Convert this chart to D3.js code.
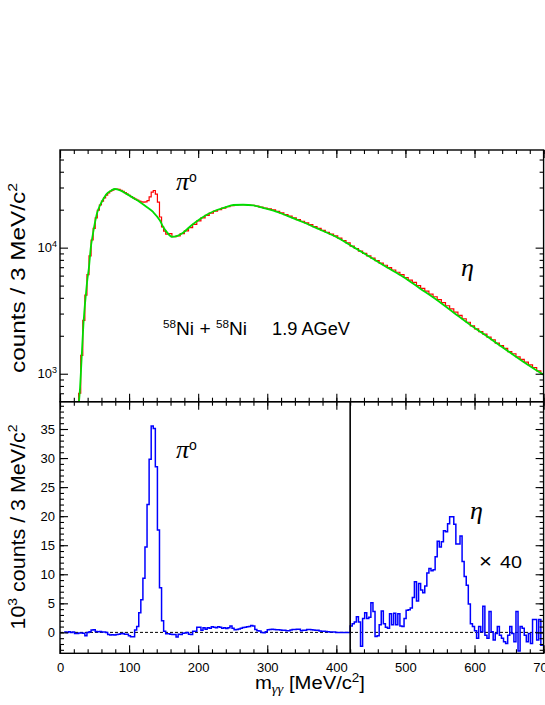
<!DOCTYPE html>
<html>
<head>
<meta charset="utf-8">
<script src="https://cdn.jsdelivr.net/npm/d3@7"></script>
<style>
  body { margin: 0; background: #fff; }
  svg { display: block; }
</style>
</head>
<body>
<svg id="chart" width="545" height="705"></svg>
<script>
// ---- data ----
const binWidth = 3; // MeV per bin

// lower panel: (data - background) in 10^3 counts, bins from 6 MeV
const diffStart = 6;
const diffLow = [
  0.05, 0.0, 0.1, 0.0, 0.05, -0.2, -0.2, -0.1, -0.1, -0.15,
  -0.6, 0.0, 0.1, 0.4, 0.45, 0.15, 0.1, 0.15, 0.05, 0.05,
  0.0, -0.35, -0.45, -0.4, -0.45, -0.35, -0.3, -0.25, -0.2, -0.3,
  -0.3, -0.6, -0.75, -0.75,
  0.4, 1.0, 3.4, 5.6, 9.3, 14.7, 22.0, 29.8, 35.5, 35.1,
  28.5, 17.6, 7.7, 2.0, 0.2,
  -0.25, -0.25, -0.3, -0.35, -0.35, -0.8, -0.3, -0.35, -0.15, -0.1,
  0.0, -0.3, -0.35, 0.2, 0.2, 0.9, 0.9, 0.35, 0.8, 0.55,
  0.8, 0.7, 0.95, 0.9, 0.8, 0.95, 0.9, 0.7, 0.8, 0.65,
  0.8, 1.1, 0.7, 0.45, 0.5, 0.6, 0.7, 0.85, 0.9, 0.95,
  1.0, 1.2, 1.1, 0.5, 0.3, 0.25, 0.0, -0.05, 0.1, 0.45,
  0.5, 0.55, 0.5, 0.45, 0.45, 0.4, 0.35, 0.35, 0.3, 0.3,
  0.4, 0.5, 0.5, 0.55, 0.55, 0.3, 0.35, 0.35, 0.5, 0.5,
  0.45, 0.4, 0.35, 0.35, 0.25, 0.2, 0.2, 0.15, 0.1, 0.05,
  0.05, 0.05, 0.0, 0.0, 0.0, 0.0, 0.0, 0.0, 0.0
];

// lower panel above 420 MeV, multiplied by 40
const scaledStart = 420;
const diffScaled = [
  1.1, 1.5, 1.8, 2.7, 1.8, -2.4, 2.4, 3.4, 2.4, 2.6,
  5.1, 3.6, -0.7, -0.6, 1.3, 3.7, 1.5, 0.9, 0.7, 3.2,
  1.3, 3.3, 1.3, 3.2, 1.1, 1.0, 2.4, 3.8, 3.9, 4.2,
  6.0, 8.7, 5.4, 8.4, 7.3, 6.8, 8.0, 10.2, 11.0, 10.6,
  10.8, 13.0, 15.7, 14.7, 15.6, 17.5, 17.3, 18.7, 19.9, 19.9,
  18.6, 15.2, 15.2, 16.6, 12.2, 9.6, 8.1, 4.9, 1.5, 1.0,
  0.3, -1.0, 1.0, 0.1, 4.5, -0.5, -1.0, 3.6, 0.1, -1.3,
  -0.2, 1.0, -0.5, -1.0, -1.6, -1.9, -0.5, 1.0, -0.2, -1.6,
  3.6, -3.2, 1.0, 0.7, -0.5, -1.6, -0.2, -1.9, 2.2, 2.2,
  -1.3, 2.2, -2.2
];

// upper panel: measured spectrum [bin low edge MeV, counts]
const dataCounts = [
  [24, 300], [27, 700], [30, 1400], [33, 2650], [36, 4200], [39, 6100], [42, 8600],
  [45, 11500], [48, 14200], [51, 17200], [54, 19800], [57, 21800], [60, 23400],
  [63, 24800], [66, 26100], [69, 27200], [72, 28000], [75, 28600], [78, 29000],
  [81, 29200], [84, 29000], [87, 28500], [90, 28000], [93, 27300], [96, 26600],
  [99, 26000], [102, 25400], [105, 24800], [108, 24300], [111, 23800], [114, 23400],
  [117, 23100], [120, 23000], [123, 23100], [126, 23600], [129, 25300], [132, 27600],
  [135, 28400], [138, 26600], [141, 23000], [144, 17500], [147, 14600], [150, 13500],
  [153, 12800], [156, 12900], [162, 12200], [168, 12400], [174, 12900], [180, 13600],
  [186, 14400], [192, 15300], [198, 16300], [204, 17200], [210, 18000], [216, 18800],
  [222, 19500], [228, 20000], [234, 20600], [240, 21100], [246, 21500], [252, 21800],
  [258, 21900], [264, 21900], [270, 21800], [276, 21700], [282, 21400], [288, 21000],
  [294, 20600], [300, 20300], [306, 19900], [312, 19400], [318, 18900], [324, 18300],
  [330, 17800], [336, 17200], [342, 16700], [348, 16200], [354, 15700], [360, 15200],
  [366, 14700], [372, 14200], [378, 13700], [384, 13200], [390, 12800], [396, 12400],
  [402, 11900], [408, 11400], [414, 10900], [420, 10300], [426, 9850], [432, 9400],
  [438, 9000], [444, 8600], [450, 8250], [456, 7900], [462, 7550], [468, 7250],
  [474, 6950], [480, 6650], [486, 6380], [492, 6100], [498, 5800], [504, 5530],
  [510, 5300], [516, 5000], [522, 4750], [528, 4520], [534, 4280], [540, 4080],
  [546, 3870], [552, 3660], [558, 3460], [564, 3270], [570, 3080], [576, 2900],
  [582, 2730], [588, 2560], [594, 2400], [600, 2270], [606, 2160], [612, 2060],
  [618, 1950], [624, 1860], [630, 1750], [636, 1670], [642, 1590], [648, 1500],
  [654, 1440], [660, 1360], [666, 1300], [672, 1235], [678, 1175], [684, 1120],
  [690, 1055], [696, 1000], [699, 1000], [700, 500]
];

// upper panel: mixed-event background [MeV, counts]
const backgroundCounts = [
  [27.5, 600], [29, 771], [30.4, 1062], [31.9, 1545], [33.3, 2158], [35.2, 3100],
  [37.6, 4330], [39.5, 5520], [42, 7030], [44.4, 9820], [47.3, 12500], [50.7, 15900],
  [54, 19100], [57.9, 21600], [62.7, 24300], [67.6, 26700], [73.8, 28300], [79.6, 29200],
  [88, 28300], [96.5, 26700], [106, 24800], [116, 22900], [125.5, 21000], [135, 19100],
  [144.7, 16400], [149.6, 14500], [155, 13200], [161.7, 12200], [168, 12300],
  [178.5, 13200], [190, 15000], [202.7, 16900], [215, 18600], [227, 19900], [240, 21000],
  [251, 21800], [265, 21900], [280, 21600], [295, 20600], [309, 19700], [330, 17800],
  [352, 15900], [375, 14000], [400.6, 12100], [425, 10100], [448.8, 8430], [473, 7000],
  [497, 5860], [521, 4750], [545.5, 3840], [570, 3050], [593.7, 2440], [618, 1980],
  [642, 1600], [670, 1250], [700, 980]
];

const massTicks = [0, 100, 200, 300, 400, 500, 600, 700];
const logTicks = [1000, 10000];
const diffTicks = [0, 5, 10, 15, 20, 25, 30, 35];

// ---- layout ----
const sans = "Liberation Sans, Arial, Helvetica, sans-serif";
const serif = "Liberation Serif, Times New Roman, serif";

const svg = d3.select("#chart").attr("font-family", sans);

const x = d3.scaleLinear().domain([0, 700]).range([60, 543.6]);
const yTop = d3.scaleLog().domain([600, 59500]).range([401.7, 150]);
const yBot = d3.scaleLinear().domain([-3.6, 39.7]).range([653.3, 401.7]);

const [x0, x1] = x.range();
const [midY, topY] = yTop.range();
const [botY] = yBot.range();

const defs = svg.append("defs");
defs.append("clipPath").attr("id", "clip-top").append("rect")
  .attr("x", x0).attr("y", topY).attr("width", x1 - x0).attr("height", midY - topY);
defs.append("clipPath").attr("id", "clip-bot").append("rect")
  .attr("x", x0).attr("y", midY).attr("width", x1 - x0).attr("height", botY - midY);

// ---- upper panel ----
const stepLine = (ys) => d3.line()
  .x(d => x(d[0]))
  .y(d => ys(d[1]))
  .curve(d3.curveStepAfter);

svg.append("path")
  .datum(dataCounts)
  .attr("clip-path", "url(#clip-top)")
  .attr("fill", "none")
  .attr("stroke", "#ff0000")
  .attr("stroke-width", 1.2)
  .attr("d", stepLine(yTop));

svg.append("path")
  .datum(backgroundCounts)
  .attr("clip-path", "url(#clip-top)")
  .attr("fill", "none")
  .attr("stroke", "#00dd00")
  .attr("stroke-width", 1.8)
  .attr("d", d3.line().x(d => x(d[0])).y(d => yTop(d[1])).curve(d3.curveMonotoneX));

// ---- lower panel ----
const diffPoints = diffLow.map((v, i) => [diffStart + i * binWidth, v])
  .concat(diffScaled.map((v, i) => [scaledStart + i * binWidth, v]));
diffPoints.push([scaledStart + diffScaled.length * binWidth, diffScaled[diffScaled.length - 1]]);

svg.append("line")
  .attr("x1", x0).attr("x2", x1)
  .attr("y1", yBot(0)).attr("y2", yBot(0))
  .attr("stroke", "#000")
  .attr("stroke-width", 1)
  .attr("stroke-dasharray", "3,2");

svg.append("path")
  .datum(diffPoints)
  .attr("clip-path", "url(#clip-bot)")
  .attr("fill", "none")
  .attr("stroke", "#0000ff")
  .attr("stroke-width", 1.5)
  .attr("d", stepLine(yBot));

svg.append("line")
  .attr("x1", x(scaledStart)).attr("x2", x(scaledStart))
  .attr("y1", midY).attr("y2", botY)
  .attr("stroke", "#000")
  .attr("stroke-width", 1.6);

// ---- frames and ticks ----
[[topY, midY], [midY, botY]].forEach(([a, b]) => {
  svg.append("rect")
    .attr("x", x0).attr("y", a)
    .attr("width", x1 - x0).attr("height", b - a)
    .attr("fill", "none")
    .attr("stroke", "#000")
    .attr("stroke-width", 1.4);
});

function axisGroup(axis, tx, ty) {
  const g = svg.append("g")
    .attr("transform", `translate(${tx},${ty})`)
    .call(axis)
    .attr("font-family", sans)
    .attr("font-size", 13);
  g.select(".domain").remove();
  g.selectAll(".tick line").attr("stroke-width", 1.1);
  return g;
}
const noLabel = () => "";
const minorMass = d3.range(0, 701, 20);

// x ticks on every horizontal edge, pointing inwards
[[d3.axisTop, topY], [d3.axisBottom, midY], [d3.axisTop, midY]].forEach(([ax, ty]) => {
  axisGroup(ax(x).tickValues(massTicks).tickSize(-8).tickFormat(noLabel), 0, ty);
  axisGroup(ax(x).tickValues(minorMass).tickSize(-4).tickFormat(noLabel), 0, ty);
});
axisGroup(d3.axisBottom(x).tickValues(massTicks).tickSize(-8).tickPadding(9), 0, botY);
axisGroup(d3.axisBottom(x).tickValues(minorMass).tickSize(-4).tickFormat(noLabel), 0, botY);

// log axis of the upper panel
const minorLog = [700, 800, 900, 2000, 3000, 4000, 5000, 6000, 7000, 8000, 9000, 20000, 30000, 40000, 50000];
const gLog = axisGroup(d3.axisLeft(yTop).tickValues(logTicks).tickSize(-8).tickPadding(3).tickFormat(() => "10"), x0, 0);
gLog.selectAll(".tick text").append("tspan")
  .attr("dy", -5)
  .attr("font-size", 9)
  .text(d => Math.round(Math.log10(d)));
axisGroup(d3.axisLeft(yTop).tickValues(minorLog).tickSize(-4).tickFormat(noLabel), x0, 0);
axisGroup(d3.axisRight(yTop).tickValues(logTicks).tickSize(-8).tickFormat(noLabel), x1, 0);
axisGroup(d3.axisRight(yTop).tickValues(minorLog).tickSize(-4).tickFormat(noLabel), x1, 0);

// linear axis of the lower panel
const minorDiff = d3.range(-3, 40, 1);
axisGroup(d3.axisLeft(yBot).tickValues(diffTicks).tickSize(-8).tickPadding(5), x0, 0);
axisGroup(d3.axisLeft(yBot).tickValues(minorDiff).tickSize(-4).tickFormat(noLabel), x0, 0);
axisGroup(d3.axisRight(yBot).tickValues(diffTicks).tickSize(-8).tickFormat(noLabel), x1, 0);
axisGroup(d3.axisRight(yBot).tickValues(minorDiff).tickSize(-4).tickFormat(noLabel), x1, 0);

// ---- texts ----
function richText(parts, attrs) {
  const t = svg.append("text");
  Object.entries(attrs).forEach(([k, v]) => t.attr(k, v));
  parts.forEach(p => {
    const s = t.append("tspan").text(p.t);
    if (p.dy) s.attr("dy", p.dy);
    if (p.size) s.attr("font-size", p.size);
    if (p.italic) s.attr("font-style", "italic");
    if (p.family) s.attr("font-family", p.family);
  });
  return t;
}

const stretch = (len) => ({ textLength: len, lengthAdjust: "spacingAndGlyphs" });

richText([{ t: "counts / 3 MeV/c" }, { t: "2", dy: -8, size: 13 }],
  { transform: "translate(25,278) rotate(-90)", "text-anchor": "middle", "font-size": 20, ...stretch(190) });

richText([{ t: "10" }, { t: "3", dy: -8, size: 13 }, { t: " counts / 3 MeV/c", dy: 8 }, { t: "2", dy: -8, size: 13 }],
  { transform: "translate(25,527) rotate(-90)", "text-anchor": "middle", "font-size": 20, ...stretch(205) });

richText([{ t: "m" }, { t: "γγ", dy: 4, size: 13, italic: true, family: serif }, { t: " [MeV/c", dy: -4 },
  { t: "2", dy: -7, size: 12 }, { t: "]", dy: 7 }],
  { x: 255, y: 689, "font-size": 18, ...stretch(110) });

richText([{ t: "58", size: 11 }, { t: "Ni + ", dy: 7.5 }, { t: "58", dy: -7.5, size: 11 }, { t: "Ni", dy: 7.5 }],
  { x: 163, y: 327.5, "font-size": 18, ...stretch(84) });
richText([{ t: "1.9 AGeV" }], { x: 272, y: 335, "font-size": 18, ...stretch(78) });

richText([{ t: "×" }], { x: 479, y: 568, "font-size": 21, ...stretch(13) });
richText([{ t: "40" }], { x: 500, y: 568, "font-size": 16, ...stretch(22) });

[[176, 190], [176, 458]].forEach(([tx, ty]) => {
  richText([{ t: "π", italic: true, family: serif }, { t: "o", dy: -8, size: 14, family: sans }],
    { x: tx, y: ty, "font-size": 26 });
});
[[461, 275.5], [470, 519]].forEach(([tx, ty]) => {
  richText([{ t: "η", italic: true, family: serif }], { x: tx, y: ty, "font-size": 26 });
});
</script>
</body>
</html>
